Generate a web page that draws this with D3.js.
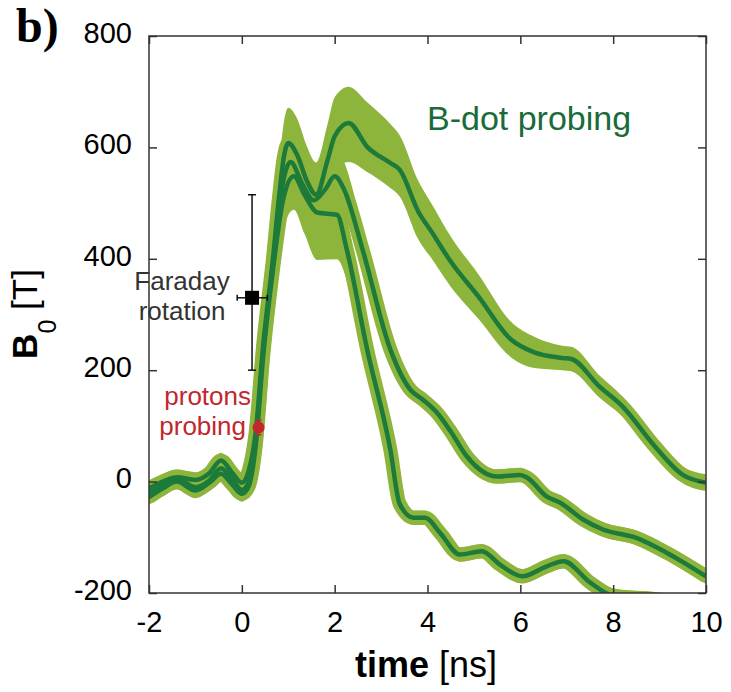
<!DOCTYPE html>
<html>
<head>
<meta charset="utf-8">
<script src="https://cdn.jsdelivr.net/npm/d3@7/dist/d3.min.js"></script>
<style>
    body { margin: 0; background: #fff; }
    svg { display: block; font-family: "Liberation Sans", Arial, sans-serif; }
</style>
</head>
<body>
<div id="chart"></div>
<script>
// each row: [time (ns), B0 (T), error below, error above]
var curveA = [
    [-2.0, -12, 14, 14], [-1.7, 0, 14, 14], [-1.4, 8, 14, 14], [-1.0, 3, 14, 14],
    [-0.7, 15, 14, 14], [-0.45, 38, 14, 14], [-0.2, 15, 14, 14], [0.0, -2, 14, 14],
    [0.15, 20, 16, 16], [0.3, 90, 22, 22], [0.46, 245, 35, 35], [0.67, 400, 45, 45],
    [0.8, 510, 55, 55], [0.9, 580, 60, 62], [1.0, 608, 62, 63], [1.2, 585, 62, 65],
    [1.4, 540, 60, 62], [1.6, 515, 58, 58], [1.85, 578, 60, 65], [2.0, 620, 62, 70],
    [2.3, 644, 70, 65], [2.7, 601, 45, 80], [3.2, 572, 45, 70], [3.4, 560, 48, 62],
    [3.8, 485, 50, 55], [4.1, 447, 48, 50], [4.5, 395, 45, 45], [5.1, 332, 40, 40],
    [5.8, 255, 32, 32], [6.3, 232, 28, 28], [6.9, 222, 22, 22], [7.1, 220, 22, 22],
    [7.7, 171, 20, 20], [8.2, 135, 18, 18], [8.9, 63, 16, 16], [9.5, 12, 15, 15],
    [10.0, -2, 15, 15]
]
var curveB = [
    [-2.0, -20, 14, 14], [-1.7, -6, 14, 14], [-1.4, 4, 14, 14], [-1.0, -10, 14, 14],
    [-0.7, 2, 14, 14], [-0.45, 24, 14, 14], [-0.2, 4, 14, 14], [0.0, -15, 14, 14],
    [0.15, 0, 16, 16], [0.3, 75, 22, 22], [0.46, 235, 35, 35], [0.67, 390, 45, 45],
    [0.85, 520, 55, 55], [1.05, 574, 60, 60], [1.3, 535, 60, 60], [1.55, 505, 62, 60],
    [1.8, 525, 65, 60], [2.0, 548, 62, 60], [2.2, 525, 50, 50], [2.6, 417, 40, 40],
    [3.2, 237, 25, 25], [3.63, 165, 15, 15], [3.9, 147, 14, 14], [4.2, 124, 14, 14],
    [4.5, 90, 14, 14], [4.85, 45, 13, 13], [5.5, 9, 13, 13], [6.0, 12, 13, 13],
    [6.15, 7, 13, 13], [6.57, -27, 13, 13], [6.86, -38, 13, 13], [7.35, -68, 13, 13],
    [7.78, -86, 13, 13], [8.5, -101, 13, 13], [9.16, -128, 13, 13], [10.0, -170, 14, 14]
]
var curveC = [
    [-2.0, -28, 14, 14], [-1.7, -12, 14, 14], [-1.4, 0, 14, 14], [-1.0, -16, 14, 14],
    [-0.7, -2, 14, 14], [-0.45, 14, 14, 14], [-0.2, -6, 14, 14], [0.0, -22, 14, 14],
    [0.15, -8, 16, 16], [0.3, 65, 22, 22], [0.46, 225, 35, 35], [0.67, 380, 45, 45],
    [0.9, 510, 55, 55], [1.12, 548, 60, 60], [1.35, 515, 70, 60], [1.62, 483, 85, 60],
    [2.05, 479, 80, 60], [2.26, 417, 55, 50], [2.7, 237, 35, 35], [3.2, 57, 20, 20],
    [3.4, -40, 15, 15], [3.7, -65, 13, 13], [3.95, -65, 13, 13], [4.27, -92, 13, 13],
    [4.7, -131, 13, 13], [5.17, -125, 13, 13], [5.56, -149, 13, 13], [6.04, -170, 13, 13],
    [6.57, -152, 13, 13], [6.93, -143, 13, 13], [7.5, -181, 13, 13], [8.0, -205, 13, 13],
    [9.0, -212, 13, 13], [10.0, -225, 13, 13]
]
var curves = [curveA, curveB, curveC]

// Faraday rotation point: [time, B0], time range, B0 range
var faradayPoint = [0.22, 330]
var faradayTimeRange = [-0.1, 0.55]
var faradayBRange = [200, 515]
// protons probing point
var protonPoint = [0.36, 97]
var protonBRange = [84, 110]

var xTicks = [-2, 0, 2, 4, 6, 8, 10]
var yTicks = [-200, 0, 200, 400, 600, 800]

var width = 731, height = 692,
    margin = { top: 36, right: 25, bottom: 99, left: 149 }

var bandColor = '#8db53c', lineColor = '#1c7a3a', axisColor = '#333'

var svg = d3.select('#chart').append('svg')
    .attr('width', width)
    .attr('height', height)

var x = d3.scaleLinear().domain([-2, 10]).range([margin.left, width - margin.right])
var y = d3.scaleLinear().domain([-200, 800]).range([height - margin.bottom, margin.top])

svg.append('clipPath').attr('id', 'plotClip')
    .append('rect')
    .attr('x', x(-2)).attr('y', y(800))
    .attr('width', x(10) - x(-2)).attr('height', y(-200) - y(800))

var plot = svg.append('g').attr('clip-path', 'url(#plotClip)')

var area = d3.area()
    .curve(d3.curveMonotoneX)
    .x(d => x(d[0]))
    .y0(d => y(d[1] - d[2]))
    .y1(d => y(d[1] + d[3]))

var line = d3.line()
    .curve(d3.curveMonotoneX)
    .x(d => x(d[0]))
    .y(d => y(d[1]))

// light green bands first, then the dark lines on top
plot.selectAll('.band')
    .data(curves)
    .enter().append('path')
    .attr('class', 'band')
    .attr('d', area)
    .attr('fill', bandColor)

plot.selectAll('.bandEdge')
    .data(curves)
    .enter().append('path')
    .attr('class', 'bandEdge')
    .attr('d', line)
    .attr('fill', 'none')
    .attr('stroke', bandColor)
    .attr('stroke-width', 14)
    .attr('stroke-linejoin', 'round')

plot.selectAll('.curve')
    .data(curves)
    .enter().append('path')
    .attr('class', 'curve')
    .attr('d', line)
    .attr('fill', 'none')
    .attr('stroke', lineColor)
    .attr('stroke-width', 4.5)
    .attr('stroke-linejoin', 'round')

// axes with inward ticks on all four sides
var plain = d => String(d)
var xAxis = svg.append('g')
    .attr('transform', `translate(0,${y(-200)})`)
    .call(d3.axisBottom(x).tickValues(xTicks).tickFormat(plain).tickSizeInner(-8).tickSizeOuter(0).tickPadding(18))
var yAxis = svg.append('g')
    .attr('transform', `translate(${x(-2)},0)`)
    .call(d3.axisLeft(y).tickValues(yTicks).tickFormat(plain).tickSizeInner(-8).tickSizeOuter(0).tickPadding(17))
var xTop = svg.append('g')
    .attr('transform', `translate(0,${y(800)})`)
    .call(d3.axisTop(x).tickValues(xTicks).tickSizeInner(-8).tickSizeOuter(0).tickFormat(''))
var yRight = svg.append('g')
    .attr('transform', `translate(${x(10)},0)`)
    .call(d3.axisRight(y).tickValues(yTicks).tickSizeInner(-8).tickSizeOuter(0).tickFormat(''))

;[xAxis, yAxis, xTop, yRight].forEach(function (g) {
    g.select('.domain').remove()
    g.selectAll('line').attr('stroke', axisColor).attr('stroke-width', 1.5)
    g.selectAll('text')
        .attr('fill', '#000')
        .style('font-size', '29px')
        .style('font-family', '"Liberation Sans", Arial, sans-serif')
})
yAxis.selectAll('text').attr('dy', '0.22em')

svg.append('rect')
    .attr('x', x(-2)).attr('y', y(800))
    .attr('width', x(10) - x(-2)).attr('height', y(-200) - y(800))
    .attr('fill', 'none')
    .attr('stroke', axisColor)
    .attr('stroke-width', 1.5)

// Faraday rotation marker with error bars
var fx = x(faradayPoint[0]), fy = y(faradayPoint[1])
var fara = svg.append('g').attr('stroke', '#111').attr('stroke-width', 1.5)
fara.append('line')
    .attr('x1', fx).attr('x2', fx)
    .attr('y1', y(faradayBRange[0])).attr('y2', y(faradayBRange[1]))
fara.append('line')
    .attr('x1', fx - 4).attr('x2', fx + 4)
    .attr('y1', y(faradayBRange[0])).attr('y2', y(faradayBRange[0]))
fara.append('line')
    .attr('x1', fx - 4).attr('x2', fx + 4)
    .attr('y1', y(faradayBRange[1])).attr('y2', y(faradayBRange[1]))
fara.append('line')
    .attr('x1', x(faradayTimeRange[0])).attr('x2', x(faradayTimeRange[1]))
    .attr('y1', fy).attr('y2', fy)
fara.append('line')
    .attr('x1', x(faradayTimeRange[0])).attr('x2', x(faradayTimeRange[0]))
    .attr('y1', fy - 3).attr('y2', fy + 3)
fara.append('line')
    .attr('x1', x(faradayTimeRange[1])).attr('x2', x(faradayTimeRange[1]))
    .attr('y1', fy - 3).attr('y2', fy + 3)
svg.append('rect')
    .attr('x', fx - 7).attr('y', fy - 7)
    .attr('width', 14).attr('height', 14)
    .attr('fill', '#000')

// protons probing marker
var px = x(protonPoint[0]), py = y(protonPoint[1])
var prot = svg.append('g').attr('stroke', '#c1272d').attr('stroke-width', 1.5)
prot.append('line')
    .attr('x1', px).attr('x2', px)
    .attr('y1', y(protonBRange[0])).attr('y2', y(protonBRange[1]))
prot.append('line')
    .attr('x1', px - 3).attr('x2', px + 3)
    .attr('y1', y(protonBRange[0])).attr('y2', y(protonBRange[0]))
prot.append('line')
    .attr('x1', px - 3).attr('x2', px + 3)
    .attr('y1', y(protonBRange[1])).attr('y2', y(protonBRange[1]))
svg.append('circle')
    .attr('cx', px).attr('cy', py).attr('r', 6)
    .attr('fill', '#c1272d')

// annotations
svg.append('text')
    .attr('x', 427).attr('y', 130)
    .attr('fill', '#1a6b3a')
    .style('font-size', '34px')
    .text('B-dot probing')

var faraText = svg.append('g')
    .attr('fill', '#333')
    .attr('text-anchor', 'middle')
    .style('font-size', '26px')
faraText.append('text').attr('x', 182).attr('y', 290).text('Faraday')
faraText.append('text').attr('x', 182).attr('y', 320).text('rotation')

var protText = svg.append('g')
    .attr('fill', '#c1272d')
    .attr('text-anchor', 'end')
    .style('font-size', '26px')
protText.append('text').attr('x', 251).attr('y', 405).text('protons')
protText.append('text').attr('x', 246).attr('y', 435).text('probing')

// panel letter
svg.append('text')
    .attr('x', 16).attr('y', 42)
    .style('font-family', '"Liberation Serif", "Times New Roman", serif')
    .style('font-weight', 'bold')
    .style('font-size', '48px')
    .text('b)')

// axis titles
var xTitle = svg.append('text')
    .attr('x', 426).attr('y', 677)
    .attr('text-anchor', 'middle')
    .style('font-size', '36px')
xTitle.append('tspan').style('font-weight', 'bold').text('time')
xTitle.append('tspan').text(' [ns]')

var yTitle = svg.append('text')
    .attr('transform', 'translate(37,314) rotate(-90)')
    .attr('text-anchor', 'middle')
    .style('font-size', '35px')
yTitle.append('tspan').style('font-weight', 'bold').text('B')
yTitle.append('tspan').attr('dy', 19).style('font-size', '25px').text('0')
yTitle.append('tspan').attr('dy', -19).text(' [T]')
</script>
</body>
</html>
